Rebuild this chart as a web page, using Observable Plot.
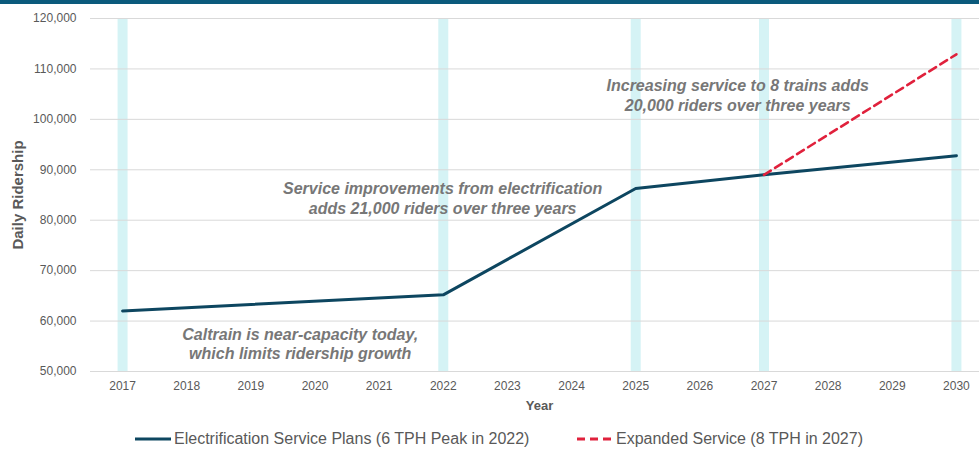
<!DOCTYPE html>
<html>
<head>
<meta charset="utf-8">
<script src="https://cdn.jsdelivr.net/npm/d3@7"></script>
<script src="https://cdn.jsdelivr.net/npm/@observablehq/plot@0.6"></script>
<style>
  html, body { margin: 0; padding: 0; background: #fff; }
  body { width: 979px; height: 453px; overflow: hidden; font-family: "Liberation Sans", Arial, sans-serif; }
  #topbar { height: 4px; background: #0b5a7c; }
  #chart svg { display: block; overflow: hidden; }
  #chart g[aria-label="x-axis label"] text { font-weight: bold; font-size: 13px; fill: #595959; }
  #chart g[aria-label="y-axis label"] text { font-weight: bold; font-size: 15px; fill: #595959; }
  #legend { position: relative; height: 33px; font-size: 16px; color: #595959; }
  .item { position: absolute; top: 10px; display: flex; align-items: center; white-space: nowrap; }
  .item svg { display: block; margin-right: 3px; }
</style>
</head>
<body>
<div id="topbar"></div>
<div id="chart"></div>
<div id="legend"></div>
<script>
// Caltrain daily ridership forecast
const years = [2017, 2022, 2025, 2027, 2030];
const electrification = [62000, 65200, 86300, 89000, 92800];
const expandedYears = [2027, 2030];
const expanded = [89000, 112900];

// milestone years shaded in the background
const milestoneYears = [2017, 2022, 2025, 2027, 2030];

const tickYears = d3.range(2017, 2031);
const yTicks = [50000, 60000, 70000, 80000, 90000, 100000, 110000, 120000];

// annotation text, anchored in data space
const noteText = [
  "Caltrain is near-capacity today,\nwhich limits ridership growth",
  "Service improvements from electrification\nadds 21,000 riders over three years",
  "Increasing service to 8 trains adds\n20,000 riders over three years"
];
const noteYear = [2019.77, 2021.99, 2026.59];
const noteValue = [55550, 84450, 104850];

const seriesNames = ["Electrification Service Plans (6 TPH Peak in 2022)", "Expanded Service (8 TPH in 2027)"];
const seriesColors = ["#0d4660", "#e0213c"];

const mainData = years.map((y, i) => ({year: y, riders: electrification[i]}));
const expData = expandedYears.map((y, i) => ({year: y, riders: expanded[i]}));
const notes = noteText.map((t, i) => ({text: t, year: noteYear[i], riders: noteValue[i]}));

const chart = Plot.plot({
  width: 979,
  height: 416,
  marginTop: 14,
  marginBottom: 49,
  marginLeft: 90,
  marginRight: -9,
  style: {fontFamily: "'Liberation Sans', Arial, sans-serif", fontSize: "12px", color: "#595959", background: "#fff"},
  x: {domain: [2016.5, 2030.5]},
  y: {domain: [50000, 120000]},
  marks: [
    Plot.ruleX(milestoneYears, {x: d => d, y1: 50000, y2: 120000, stroke: "#d5f3f5", strokeWidth: 10}),
    Plot.gridY(yTicks, {stroke: "#d9d9d9", strokeOpacity: 1, strokeWidth: 1}),
    Plot.axisY(yTicks, {tickSize: 0, tickPadding: 14, tickFormat: d3.format(","), fill: "#595959", fontSize: 12,
      label: "Daily Ridership", labelAnchor: "center", labelOffset: 78, labelArrow: "none"}),
    Plot.axisX(tickYears, {tickSize: 0, tickPadding: 10, tickFormat: "d", fill: "#595959", fontSize: 12,
      label: "Year", labelAnchor: "center", labelOffset: 38, labelArrow: "none"}),
    Plot.line(mainData, {x: "year", y: "riders", stroke: seriesColors[0], strokeWidth: 3}),
    Plot.line(expData, {x: "year", y: "riders", stroke: seriesColors[1], strokeWidth: 2.6, strokeDasharray: "8,5"}),
    Plot.text(notes, {x: "year", y: "riders", text: "text", fontSize: 16, fontWeight: "bold",
      fontStyle: "italic", fill: "#777777", lineHeight: 1.2, textAnchor: "middle"})
  ]
});
document.getElementById("chart").append(chart);

// legend below the chart
const legend = document.getElementById("legend");
const legendLeft = [135, 577];
seriesNames.forEach((name, i) => {
  const item = document.createElement("div");
  item.className = "item";
  item.style.left = legendLeft[i] + "px";
  const dash = i === 1 ? ' stroke-dasharray="8,5"' : '';
  item.innerHTML = `<svg width="36" height="14"><line x1="0" x2="36" y1="7" y2="7" stroke="${seriesColors[i]}" stroke-width="3"${dash}/></svg><span>${name}</span>`;
  legend.append(item);
});
</script>
</body>
</html>
